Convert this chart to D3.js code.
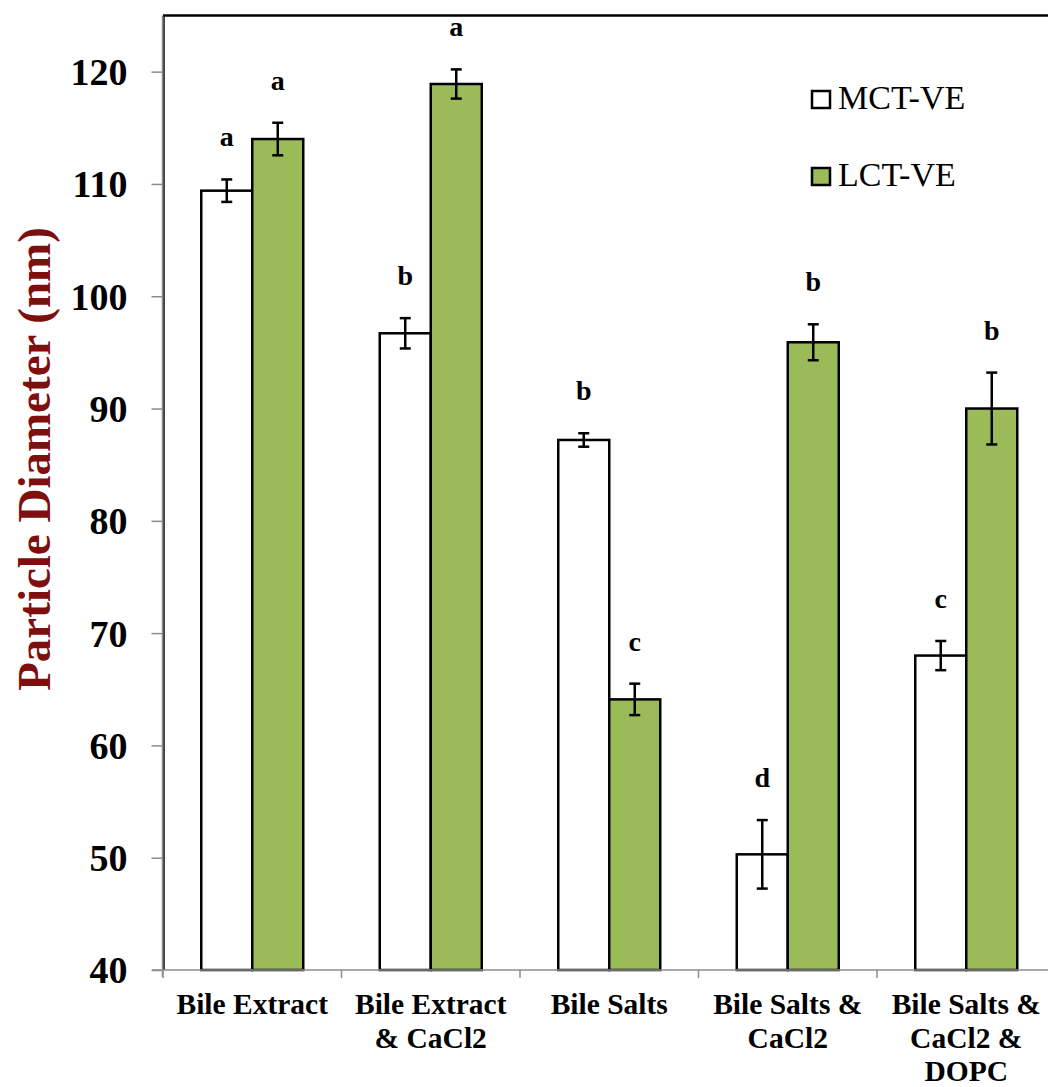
<!DOCTYPE html>
<html>
<head>
<meta charset="utf-8">
<script src="https://cdn.jsdelivr.net/npm/d3@7"></script>
<style>
  html, body { margin: 0; padding: 0; background: #fff; }
  svg { display: block; }
  text { font-family: "Liberation Serif", "Times New Roman", serif; }
</style>
</head>
<body>
<script>
// Particle diameter after digestion in different bile conditions
const categories = [
  ["Bile Extract"],
  ["Bile Extract", "& CaCl2"],
  ["Bile Salts"],
  ["Bile Salts &", "CaCl2"],
  ["Bile Salts &", "CaCl2 &", "DOPC"]
];
const seriesNames = ["MCT-VE", "LCT-VE"];
const seriesColors = ["#ffffff", "#9bbb59"];
const mctValues = [109.4, 96.7, 87.2, 50.3, 68.0];
const lctValues = [114.0, 118.9, 64.1, 95.9, 90.0];
const mctErrors = [1.0, 1.35, 0.6, 3.05, 1.3];
const lctErrors = [1.45, 1.3, 1.4, 1.6, 3.2];
const mctLetters = ["a", "b", "b", "d", "c"];
const lctLetters = ["a", "a", "c", "b", "b"];
const yTicks = [40, 50, 60, 70, 80, 90, 100, 110, 120];
const yDomain = [40, 125];

const W = 1048, H = 1087;
const plotLeft = 163, plotTop = 15.5, plotBottom = 970, catStep = 178.5;

const svg = d3.select("body").append("svg").attr("width", W).attr("height", H);

const catKeys = categories.map(c => c.join(" "));
const x = d3.scaleBand().domain(catKeys).range([plotLeft, plotLeft + catStep * categories.length]);
const xSub = d3.scaleBand().domain(seriesNames).range([0, x.bandwidth()]).paddingInner(0).paddingOuter(0.75);
const y = d3.scaleLinear().domain(yDomain).range([plotBottom, plotTop]);

// plot frame: black top and left edges
svg.append("line").attr("x1", plotLeft).attr("x2", W + 10).attr("y1", plotTop).attr("y2", plotTop)
  .attr("stroke", "#000").attr("stroke-width", 2.5);
svg.append("line").attr("x1", plotLeft + 1).attr("x2", plotLeft + 1).attr("y1", plotTop).attr("y2", plotBottom)
  .attr("stroke", "#000").attr("stroke-width", 1.5);

// bars
const rows = [];
categories.forEach((c, i) => {
  rows.push({cat: catKeys[i], s: seriesNames[0], v: mctValues[i], e: mctErrors[i], l: mctLetters[i], fill: seriesColors[0]});
  rows.push({cat: catKeys[i], s: seriesNames[1], v: lctValues[i], e: lctErrors[i], l: lctLetters[i], fill: seriesColors[1]});
});

const g = svg.append("g");
g.selectAll("rect.bar").data(rows).join("rect")
  .attr("class", "bar")
  .attr("x", d => x(d.cat) + xSub(d.s))
  .attr("width", xSub.bandwidth())
  .attr("y", d => y(d.v))
  .attr("height", d => y(yDomain[0]) - y(d.v))
  .attr("fill", d => d.fill)
  .attr("stroke", "#000")
  .attr("stroke-width", 2.5);

// error bars
const cx = d => x(d.cat) + xSub(d.s) + xSub.bandwidth() / 2;
const eb = g.selectAll("g.err").data(rows).join("g").attr("class", "err")
  .attr("stroke", "#000").attr("stroke-width", 2.5);
eb.append("line").attr("x1", cx).attr("x2", cx).attr("y1", d => y(d.v + d.e)).attr("y2", d => y(d.v - d.e));
eb.append("line").attr("x1", d => cx(d) - 5.5).attr("x2", d => cx(d) + 5.5).attr("y1", d => y(d.v + d.e)).attr("y2", d => y(d.v + d.e));
eb.append("line").attr("x1", d => cx(d) - 5.5).attr("x2", d => cx(d) + 5.5).attr("y1", d => y(d.v - d.e)).attr("y2", d => y(d.v - d.e));

// significance letters
g.selectAll("text.sig").data(rows).join("text")
  .attr("class", "sig")
  .attr("x", cx)
  .attr("y", d => y(d.v + d.e) - 33)
  .attr("text-anchor", "middle")
  .attr("font-size", 28).attr("font-weight", "bold")
  .text(d => d.l);

// y axis
const yAxis = svg.append("g").attr("transform", `translate(${plotLeft - 0.5},0)`)
  .call(d3.axisLeft(y).tickValues(yTicks).tickSize(11).tickSizeOuter(0).tickPadding(24));
yAxis.select(".domain").attr("stroke", "#8c8c8c").attr("stroke-width", 1.5)
  .attr("d", `M0,${plotTop}V${plotBottom + 7}`);
yAxis.selectAll(".tick line").attr("stroke", "#8c8c8c").attr("stroke-width", 1.5);
yAxis.selectAll(".tick text").attr("font-family", "Liberation Serif, serif")
  .attr("font-size", 38).attr("font-weight", "bold").attr("fill", "#000").attr("dy", "0.34em");

// x axis
const xAxis = svg.append("g").attr("transform", `translate(0,${plotBottom})`);
xAxis.append("line").attr("x1", plotLeft - 11).attr("x2", W + 10).attr("y1", 0).attr("y2", 0)
  .attr("stroke", "#8c8c8c").attr("stroke-width", 1.5);
const bounds = d3.range(categories.length + 1).map(i => plotLeft + x.step() * i);
xAxis.selectAll("line.xt").data(bounds).join("line").attr("class", "xt")
  .attr("x1", d => d).attr("x2", d => d).attr("y1", 0).attr("y2", 8)
  .attr("stroke", "#8c8c8c").attr("stroke-width", 1.5);

const catLabels = svg.append("g").selectAll("text").data(categories).join("text")
  .attr("text-anchor", "middle")
  .attr("font-size", 29.5).attr("font-weight", "bold")
  .attr("x", (d, i) => x(catKeys[i]) + x.bandwidth() / 2);
catLabels.selectAll("tspan").data(d => d).join("tspan")
  .attr("x", function () { return this.parentNode.getAttribute("x"); })
  .attr("y", (d, i) => 1014 + i * 33.5)
  .text(d => d);

// y title
svg.append("text")
  .attr("transform", `translate(50,459) rotate(-90)`)
  .attr("text-anchor", "middle")
  .attr("font-size", 47).attr("font-weight", "bold").attr("fill", "#7f0f0f")
  .text("Particle Diameter (nm)");

// legend
const legend = svg.append("g").selectAll("g").data(seriesNames).join("g")
  .attr("transform", (d, i) => `translate(812,${91 + i * 77})`);
legend.append("rect").attr("width", 18).attr("height", 17)
  .attr("fill", (d, i) => seriesColors[i]).attr("stroke", "#000").attr("stroke-width", 2.5);
legend.append("text").attr("x", 26).attr("y", 18)
  .attr("font-size", 34).text(d => d);
</script>
</body>
</html>
